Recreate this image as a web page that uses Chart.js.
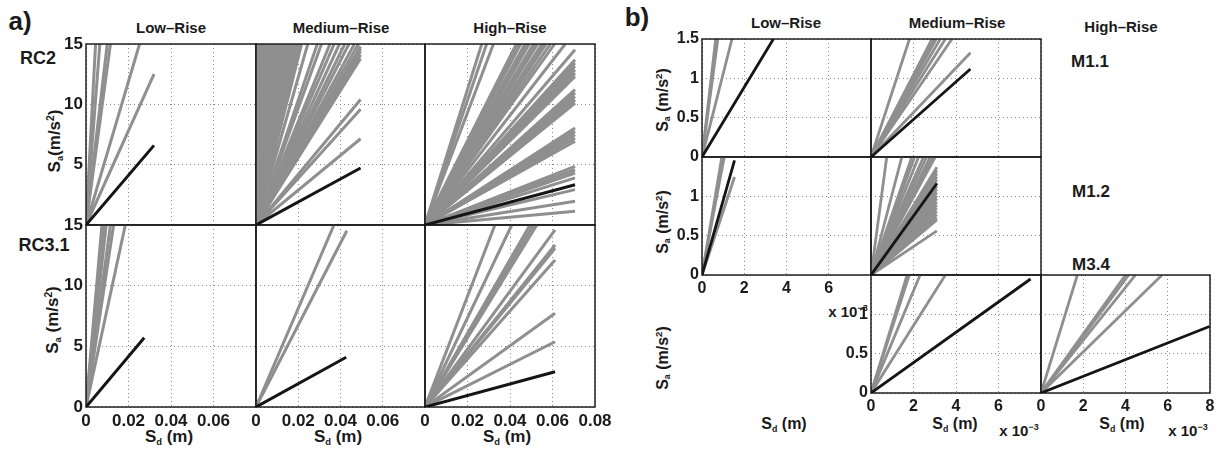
<!DOCTYPE html>
<html>
<head>
<meta charset="utf-8">
<script src="https://cdn.jsdelivr.net/npm/chart.js@4.4.1/dist/chart.umd.min.js"></script>
<style>
body { margin:0; background:#fff; width:1219px; height:450px; position:relative; overflow:hidden;
       font-family:"Liberation Sans", Arial, sans-serif; font-weight:bold; color:#1a1a1a; }
canvas { position:absolute; }
.t { position:absolute; white-space:nowrap; transform:translate(-50%,-50%); line-height:1; }
.v { position:absolute; white-space:nowrap; transform:translate(-50%,-50%) rotate(-90deg); line-height:1; }
sub { font-size:55%; vertical-align:-0.3em; }
sup { font-size:60%; vertical-align:0.6em; }
</style>
</head>
<body>

<div class="t" style="left:20px;top:21px;font-size:26px">a)</div>
<div class="t" style="left:171px;top:27px;font-size:15px">Low–Rise</div>
<div class="t" style="left:341px;top:27px;font-size:15px">Medium–Rise</div>
<div class="t" style="left:510px;top:27px;font-size:15px">High–Rise</div>
<div class="t" style="left:38px;top:58px;font-size:18px">RC2</div>
<div class="t" style="left:44px;top:245px;font-size:18px">RC3.1</div>
<div class="v" style="left:56px;top:141px;font-size:17px">S<sub>a</sub>(m/s<sup>2</sup>)</div>
<div class="v" style="left:54px;top:320px;font-size:17px">S<sub>a</sub> (m/s<sup>2</sup>)</div>
<div class="t" style="left:169px;top:438px;font-size:17px">S<sub>d</sub> (m)</div>
<div class="t" style="left:338px;top:438px;font-size:17px">S<sub>d</sub> (m)</div>
<div class="t" style="left:507px;top:438px;font-size:17px">S<sub>d</sub> (m)</div>

<div class="t" style="left:637px;top:17px;font-size:26px">b)</div>
<div class="t" style="left:786px;top:22px;font-size:15px">Low–Rise</div>
<div class="t" style="left:957px;top:22px;font-size:15px">Medium–Rise</div>
<div class="t" style="left:1121px;top:26px;font-size:15px">High–Rise</div>
<div class="t" style="left:1090px;top:61px;font-size:17px">M1.1</div>
<div class="t" style="left:1091px;top:191px;font-size:17px">M1.2</div>
<div class="t" style="left:1091px;top:264px;font-size:17px">M3.4</div>
<div class="v" style="left:663px;top:100px;font-size:16px">S<sub>a</sub> (m/s<sup>2</sup>)</div>
<div class="v" style="left:663px;top:222px;font-size:16px">S<sub>a</sub> (m/s<sup>2</sup>)</div>
<div class="v" style="left:663px;top:358px;font-size:16px">S<sub>a</sub> (m/s<sup>2</sup>)</div>
<div class="t" style="left:784px;top:425px;font-size:16px">S<sub>d</sub> (m)</div>
<div class="t" style="left:955px;top:425px;font-size:16px">S<sub>d</sub> (m)</div>
<div class="t" style="left:1122px;top:425px;font-size:16px">S<sub>d</sub> (m)</div>
<div class="t" style="left:1019px;top:430px;font-size:15px">x 10<sup>−3</sup></div>
<div class="t" style="left:1188px;top:430px;font-size:15px">x 10<sup>−3</sup></div>
<div class="t" style="left:848px;top:311px;font-size:15px">x 10<sup>−3</sup></div>

<script>
// ---- panel a) : Sd in m, Sa in m/s2. every entry = end point of a line drawn from the origin
const aXTicks = [0, 0.02, 0.04, 0.06, 0.08];
const aYTicks = [0, 5, 10, 15];
const aXLabels = ['0', '0.02', '0.04', '0.06', '0.08'];
const aXLabelsCut = ['0', '0.02', '0.04', '0.06', ''];
const aYLabels = ['0', '5', '10', '15'];
const aYLabelsTop = ['', '5', '10', '15'];

const rc2LowGray = [[0.0045,15],[0.0065,15],[0.0100,15],[0.0115,15],[0.0252,15],[0.0320,12.5]];
const rc2LowBlack = [0.0320, 6.6];

const rc2MedGray = [
  [0.0004,15],[0.0008,15],[0.0013,15],[0.0018,15],[0.0024,15],[0.0030,15],[0.0036,15],[0.0042,15],
  [0.0048,15],[0.0054,15],[0.0060,15],[0.0066,15],[0.0072,15],[0.0078,15],[0.0085,15],[0.0092,15],
  [0.0099,15],[0.0106,15],[0.0113,15],[0.0120,15],[0.0128,15],[0.0136,15],[0.0144,15],[0.0152,15],
  [0.0160,15],[0.0168,15],[0.0176,15],[0.0184,15],[0.0192,15],[0.0200,15],[0.0208,15],[0.0216,15],
  [0.0245,15],[0.0290,15],[0.0310,15],[0.0350,15],[0.0370,15],[0.0395,15],[0.0420,15],[0.0440,15],
  [0.0466,15],[0.0485,15],
  [0.0495,14.8],[0.0495,14.6],[0.0495,14.4],[0.0495,14.1],[0.0495,13.8],
  [0.0495,10.4],[0.0495,9.6],[0.0495,7.15]
];
const rc2MedBlack = [0.0495, 4.72];

const rc2HighGray = [
  [0.0267,15],[0.0290,15],[0.0322,15],[0.0430,15],[0.0440,15],[0.0450,15],[0.0470,15],[0.0480,15],
  [0.0490,15],[0.0510,15],[0.0520,15],[0.0530,15],[0.0550,15],[0.0560,15],[0.0570,15],[0.0590,15],
  [0.0610,15],[0.0660,15],
  [0.0706,14.53],[0.0706,13.7],[0.0706,13.42],[0.0706,13.15],[0.0706,12.87],[0.0706,12.6],[0.0706,12.32],
  [0.0706,11.21],[0.0706,10.94],[0.0706,10.66],[0.0706,10.38],[0.0706,10.11],
  [0.0706,8.04],[0.0706,7.76],[0.0706,7.48],[0.0706,7.21],[0.0706,6.94],
  [0.0706,4.86],[0.0706,4.58],[0.0706,4.31],[0.0706,3.9],[0.0706,2.93],[0.0706,1.96],[0.0706,1.14]
];
const rc2HighBlack = [0.0706, 3.34];

const rc31LowGray = [[0.0075,15],[0.0085,15],[0.0095,15],[0.0115,15],[0.0130,15],[0.0185,15]];
const rc31LowBlack = [0.0274, 5.71];

const rc31MedGray = [[0.0369,15],[0.0430,14.53]];
const rc31MedBlack = [0.0427, 4.1];

const rc31HighGray = [
  [0.0329,15],[0.0408,15],[0.0494,15],[0.0510,15],[0.0526,15],
  [0.0612,14.59],[0.0612,13.35],[0.0612,13.08],[0.0612,12.12],[0.0612,7.72],[0.0612,5.38]
];
const rc31HighBlack = [0.0612, 2.91];

// ---- panel b) : Sd in 1e-3 m, Sa in m/s2
const bXTicks = [0, 2, 4, 6, 8];
const bYTicks = [0, 0.5, 1, 1.5];
const bXLabels = ['0', '2', '4', '6', '8'];
const bXLabelsCut = ['0', '2', '4', '6', ''];
const bYLabels = ['0', '0.5', '1', '1.5'];
const bYLabelsCut = ['0', '0.5', '1', ''];

const m11LowGray = [[0.65,1.5],[0.75,1.5],[1.42,1.5]];
const m11LowBlack = [3.38, 1.5];
const m11MedGray = [[1.81,1.5],[2.87,1.5],[2.95,1.5],[3.07,1.5],[3.26,1.5],[3.5,1.5],[3.81,1.5],[4.68,1.325]];
const m11MedBlack = [4.68, 1.118];

const m12LowGray = [[0.94,1.5],[1.05,1.5],[1.54,1.246]];
const m12LowBlack = [1.54, 1.458];
const m12MedGray = [
  [0.74,1.5],[1.45,1.5],[1.92,1.5],[2.05,1.5],[2.24,1.5],[2.47,1.5],[2.62,1.5],[2.79,1.5],[2.92,1.5],[3.02,1.5],
  [3.1,1.37],[3.1,1.33],[3.1,1.29],[3.1,1.25],[3.1,1.21],[3.1,1.17],[3.1,1.13],[3.1,1.09],[3.1,1.05],
  [3.1,1.01],[3.1,0.97],[3.1,0.93],[3.1,0.89],[3.1,0.85],[3.1,0.81],[3.1,0.77],[3.1,0.73],[3.1,0.70],[3.1,0.56]
];
const m12MedBlack = [3.1, 1.163];

const m34MedGray = [[1.7,1.5],[1.8,1.5],[2.31,1.5],[3.5,1.5]];
const m34MedBlack = [7.51, 1.449];
const m34HighGray = [[1.72,1.5],[4.0,1.5],[4.15,1.5],[4.47,1.5],[5.73,1.5]];
const m34HighBlack = [7.97, 0.845];

const GRAY = '#8f8f8f';
const BLACK = '#151515';
const L = 50, B = 30, P = 25;

const frame = {
  id: 'frame',
  afterDatasetsDraw(chart) {
    const a = chart.chartArea, ctx = chart.ctx;
    ctx.save();
    ctx.strokeStyle = '#111';
    ctx.lineWidth = 1.4;
    ctx.strokeRect(a.left, a.top, a.right - a.left, a.bottom - a.top);
    ctx.restore();
  }
};

function axis(ticks, labels, font, isX) {
  return {
    type: 'linear',
    min: ticks[0],
    max: ticks[ticks.length - 1],
    afterBuildTicks: s => { s.ticks = ticks.map(v => ({value: v})); },
    afterFit: s => { if (isX) s.height = B; else s.width = L; },
    grid: {color: '#888', lineWidth: 1, drawTicks: false},
    border: {display: false, dash: [1, 3]},
    ticks: {
      display: !!labels,
      autoSkip: false,
      maxRotation: 0,
      padding: isX ? 4 : 3,
      color: '#1a1a1a',
      font: font,
      callback: (v, i) => labels ? labels[i] : ''
    }
  };
}

function subplot(rect, xTicks, yTicks, xLabels, yLabels, gray, black, lw, fontSize) {
  const c = document.createElement('canvas');
  c.width = rect.w + L + 2 * P;
  c.height = rect.h + B + 2 * P;
  c.style.left = (rect.l - L - P) + 'px';
  c.style.top = (rect.t - P) + 'px';
  document.body.appendChild(c);

  const line = (p, color) => ({
    data: [{x: 0, y: 0}, {x: p[0], y: p[1]}],
    showLine: true, borderColor: color, borderWidth: lw,
    pointRadius: 0, borderCapStyle: 'butt', clip: 0
  });
  // black first so it is drawn on top
  const datasets = [line(black, BLACK)].concat(gray.map(p => line(p, GRAY)));
  const font = {family: 'Liberation Sans', size: fontSize, weight: 'bold'};

  new Chart(c, {
    type: 'scatter',
    data: {datasets: datasets},
    options: {
      responsive: false,
      animation: false,
      devicePixelRatio: 1,
      layout: {padding: P},
      plugins: {legend: {display: false}, tooltip: {enabled: false}},
      scales: {
        x: axis(xTicks, xLabels, font, true),
        y: axis(yTicks, yLabels, font, false)
      }
    },
    plugins: [frame]
  });
}

// panel a) grid: columns 86/256/425, rows 44/225
subplot({l: 86,  t: 44,  w: 170, h: 181}, aXTicks, aYTicks, null, aYLabelsTop, rc2LowGray, rc2LowBlack, 3, 17);
subplot({l: 256, t: 44,  w: 169, h: 181}, aXTicks, aYTicks, null, null, rc2MedGray, rc2MedBlack, 3, 17);
subplot({l: 425, t: 44,  w: 170, h: 181}, aXTicks, aYTicks, null, null, rc2HighGray, rc2HighBlack, 3, 17);
subplot({l: 86,  t: 225, w: 170, h: 182}, aXTicks, aYTicks, aXLabelsCut, aYLabels, rc31LowGray, rc31LowBlack, 3, 17);
subplot({l: 256, t: 225, w: 169, h: 182}, aXTicks, aYTicks, aXLabelsCut, null, rc31MedGray, rc31MedBlack, 3, 17);
subplot({l: 425, t: 225, w: 170, h: 182}, aXTicks, aYTicks, aXLabels, null, rc31HighGray, rc31HighBlack, 3, 17);

// panel b) grid: columns 702/871/1041, rows 39/157/275
subplot({l: 702,  t: 39,  w: 169, h: 118}, bXTicks, bYTicks, null, bYLabels, m11LowGray, m11LowBlack, 2.8, 16);
subplot({l: 871,  t: 39,  w: 170, h: 118}, bXTicks, bYTicks, null, null, m11MedGray, m11MedBlack, 2.8, 16);
subplot({l: 702,  t: 157, w: 169, h: 118}, bXTicks, bYTicks, bXLabelsCut, bYLabelsCut, m12LowGray, m12LowBlack, 2.8, 16);
subplot({l: 871,  t: 157, w: 170, h: 118}, bXTicks, bYTicks, null, null, m12MedGray, m12MedBlack, 2.8, 16);
subplot({l: 871,  t: 275, w: 170, h: 118}, bXTicks, bYTicks, bXLabelsCut, bYLabelsCut, m34MedGray, m34MedBlack, 2.8, 16);
subplot({l: 1041, t: 275, w: 169, h: 118}, bXTicks, bYTicks, bXLabels, null, m34HighGray, m34HighBlack, 2.8, 16);
</script>
</body>
</html>
